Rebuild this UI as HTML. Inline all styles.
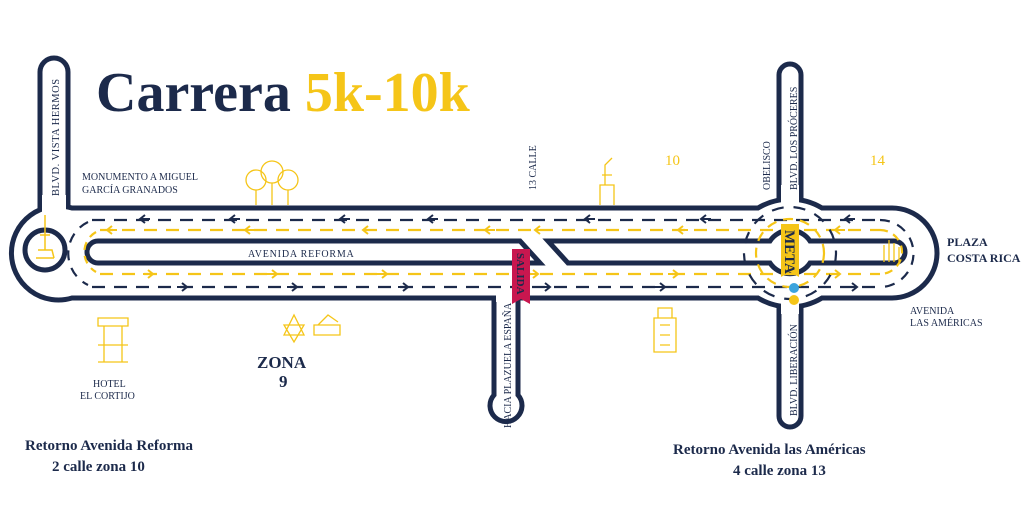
<!DOCTYPE html>
<html><head><meta charset="utf-8"><style>
html,body{margin:0;padding:0;background:#fff;}
svg{display:block;}
text{font-family:"Liberation Serif",serif;}
</style></head><body>
<svg width="1030" height="507" viewBox="0 0 1030 507" xmlns="http://www.w3.org/2000/svg">
<defs>
  <path id="la" d="M5 -4 L0 0 L5 4 M0 0 H10" fill="none" stroke-width="2"/>
  <path id="ra" d="M5 -4 L10 0 L5 4 M0 0 H10" fill="none" stroke-width="2"/>
</defs>
<g fill="#fff" stroke="#1c2a4b" stroke-width="5">
  <path d="M40 210 V72 a14 14 0 0 1 28 0 V210"/>
  <path d="M494 296 V395 a16 16 0 1 0 24 0 V296"/>
  <path d="M779 200 V75 a11 11 0 0 1 22 0 V200"/>
  <path d="M779 305 V416 a11 11 0 0 0 22 0 V305"/>
  <path d="M72 208 H758 A62 62 0 0 1 822 208 H892 A45 45 0 0 1 892 298 H822 A62 62 0 0 1 758 298 H72 A47 47 0 1 1 72 208 Z"/>
</g>
<rect x="42" y="195" width="24" height="20" fill="#fff"/>
<rect x="781" y="185" width="18" height="22" fill="#fff"/>
<rect x="781" y="298" width="18" height="16" fill="#fff"/>
<rect x="496" y="292" width="20" height="10" fill="#fff"/>
<g fill="#fff" stroke="#1c2a4b" stroke-width="5">
  <circle cx="45" cy="250" r="20"/>
  <path d="M98 241 H520 L540 263 H98 a11 11 0 0 1 0 -22 Z"/>
  <path d="M548 241 H770 A24 24 0 0 1 810 241 H894 a11 11 0 0 1 0 22 H810 A24 24 0 0 1 770 263 H568 Z"/>
</g>
<rect x="772" y="243" width="36" height="18" fill="#fff"/>
<g fill="none" stroke-width="2.2">
  <path d="M92 220 H880" stroke="#1c2a4b" stroke-dasharray="13 9"/>
  <path d="M92 287 H880" stroke="#1c2a4b" stroke-dasharray="13 9"/>
  <path d="M100 230 H880" stroke="#f5c518" stroke-dasharray="13 9"/>
  <path d="M100 274 H880" stroke="#f5c518" stroke-dasharray="13 9"/>
  <path d="M88 222 A35 35 0 0 0 88 285" stroke="#1c2a4b" stroke-dasharray="10 8"/>
  <path d="M96 232 A23 23 0 0 0 96 272" stroke="#f5c518" stroke-dasharray="8 6"/>
  <path d="M880 220 A33 33 0 0 1 880 287" stroke="#1c2a4b" stroke-dasharray="10 8"/>
  <path d="M880 230 A22 22 0 0 1 880 274" stroke="#f5c518" stroke-dasharray="8 6"/>
  <circle cx="790" cy="253" r="46" stroke="#1c2a4b" stroke-dasharray="12 10"/>
  <circle cx="790" cy="253" r="34" stroke="#f5c518" stroke-dasharray="10 7"/>
</g>
<g stroke="#1c2a4b">
  <use href="#la" x="140" y="219"/><use href="#la" x="230" y="219"/><use href="#la" x="340" y="219"/><use href="#la" x="428" y="219"/><use href="#la" x="585" y="219"/><use href="#la" x="701" y="219"/><use href="#la" x="845" y="219"/>
  <use href="#ra" x="177" y="287"/><use href="#ra" x="287" y="287"/><use href="#ra" x="398" y="287"/><use href="#ra" x="540" y="287"/><use href="#ra" x="655" y="287"/><use href="#ra" x="847" y="287"/>
</g>
<g stroke="#f5c518">
  <use href="#la" x="107" y="230"/><use href="#la" x="245" y="230"/><use href="#la" x="363" y="230"/><use href="#la" x="485" y="230"/><use href="#la" x="535" y="230"/><use href="#la" x="678" y="230"/><use href="#la" x="835" y="230"/>
  <use href="#ra" x="143" y="274"/><use href="#ra" x="267" y="274"/><use href="#ra" x="377" y="274"/><use href="#ra" x="528" y="274"/><use href="#ra" x="668" y="274"/><use href="#ra" x="830" y="274"/>
</g>
<g stroke="#f5c518" fill="none" stroke-width="1.5">
  <path d="M45 215 V250 M40 235 H50 M36 258 H54 M38 250 H52 L54 258"/>
</g>
<path d="M512 249 H530 V304 L521 299 L512 304 Z" fill="#c8174f"/>
<text transform="translate(517,253) rotate(90)" font-size="11" font-weight="bold" fill="#1c2a4b">SALIDA</text>
<path d="M781 224 H799 V277 L790 272 L781 277 Z" fill="#f5c518"/>
<text transform="translate(785,230) rotate(90)" font-size="15" font-weight="bold" fill="#1c2a4b">META</text>
<circle cx="794" cy="288" r="5" fill="#3ba3dc"/>
<circle cx="794" cy="300" r="5" fill="#f5c518"/>
<text x="96" y="111" font-size="56" font-weight="bold" fill="#1c2a4b">Carrera <tspan fill="#f5c518">5k-10k</tspan></text>
<g fill="#1c2a4b" font-size="10">
  <text transform="translate(59,196) rotate(-90)" font-size="10.5" letter-spacing="0.5">BLVD. VISTA HERMOS</text>
  <text x="82" y="180">MONUMENTO A MIGUEL</text>
  <text x="82" y="193">GARCÍA GRANADOS</text>
  <text x="248" y="257" font-size="10" letter-spacing="0.8">AVENIDA REFORMA</text>
  <text transform="translate(536,190) rotate(-90)">13 CALLE</text>
  <text transform="translate(770,190) rotate(-90)">OBELISCO</text>
  <text transform="translate(797,190) rotate(-90)">BLVD. LOS PRÓCERES</text>
  <text transform="translate(511,428) rotate(-90)">HACIA PLAZUELA ESPAÑA</text>
  <text transform="translate(797,416) rotate(-90)">BLVD. LIBERACIÓN</text>
  <text x="93" y="387">HOTEL</text>
  <text x="80" y="399">EL CORTIJO</text>
  <text x="910" y="314">AVENIDA</text>
  <text x="910" y="326">LAS AMÉRICAS</text>
  <text x="947" y="246" font-size="12" font-weight="bold">PLAZA</text>
  <text x="947" y="262" font-size="12" font-weight="bold">COSTA RICA</text>
  <text x="25" y="450" font-size="15" font-weight="bold">Retorno Avenida Reforma</text>
  <text x="52" y="471" font-size="15" font-weight="bold">2 calle zona 10</text>
  <text x="673" y="454" font-size="15" font-weight="bold">Retorno Avenida las Américas</text>
  <text x="733" y="475" font-size="15" font-weight="bold">4 calle zona 13</text>
</g>
<text x="257" y="368" font-family="Liberation Sans,sans-serif" font-size="17" font-weight="bold" fill="#1c2a4b">ZONA</text>
<text x="279" y="387" font-family="Liberation Sans,sans-serif" font-size="17" font-weight="bold" fill="#1c2a4b">9</text>
<text x="665" y="165" font-family="Liberation Sans,sans-serif" font-size="15" fill="#f5c518">10</text>
<text x="870" y="165" font-family="Liberation Sans,sans-serif" font-size="15" fill="#f5c518">14</text>
<g stroke="#f5c518" fill="none" stroke-width="1.3">
  <circle cx="256" cy="180" r="10"/><circle cx="272" cy="172" r="11"/><circle cx="288" cy="180" r="10"/>
  <path d="M256 190 V205 M272 183 V205 M288 190 V205"/>
  <path d="M600 205 V185 H614 V205 M605 185 V165 L612 158 M602 175 H612"/>
  <path d="M98 318 H128 V326 H98 Z M104 326 V362 M122 326 V362 M98 345 H128 M98 362 H128"/>
  <path d="M284 335 L294 315 L304 335 Z M284 325 L304 325 L294 342 Z"/>
  <path d="M314 335 H340 V325 H314 Z M318 325 L328 315 L338 322"/>
  <path d="M654 352 V318 H676 V352 Z M658 318 V308 H672 V318 M660 325 H670 M660 335 H670 M660 345 H670"/>
  <path d="M884 245 V262 M889 240 V262 M894 243 V262 M899 247 V262"/>
</g>
</svg>
</body></html>
